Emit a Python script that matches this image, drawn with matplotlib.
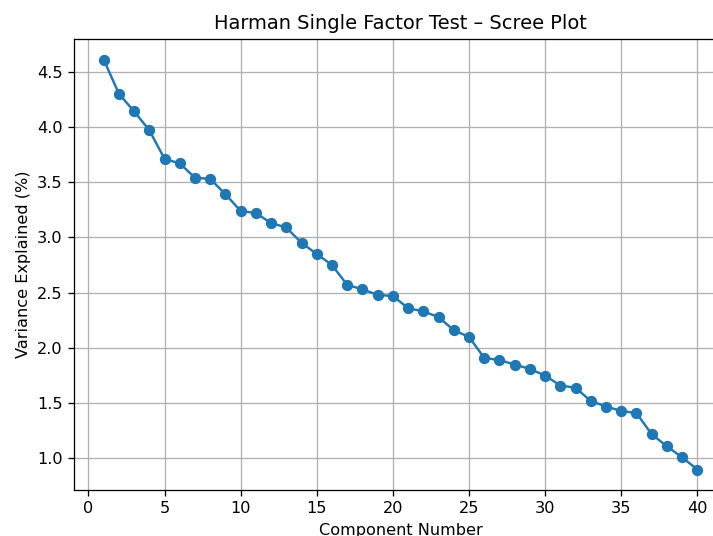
import matplotlib
matplotlib.use("Agg")
import matplotlib.pyplot as plt

# component numbers and % variance explained
components = list(range(1, 41))
variance = [4.61, 4.30, 4.14, 3.97, 3.71, 3.67, 3.54, 3.53, 3.39, 3.24,
            3.22, 3.13, 3.09, 2.95, 2.85, 2.75, 2.57, 2.53, 2.48, 2.47,
            2.36, 2.33, 2.28, 2.16, 2.10, 1.91, 1.89, 1.85, 1.81, 1.75,
            1.66, 1.64, 1.52, 1.47, 1.43, 1.41, 1.22, 1.11, 1.01, 0.90]

DPI = 116
fig = plt.figure(figsize=(713 / DPI, 536 / DPI), dpi=DPI)
# the reference is cropped on the right and bottom, so the axes run past the edge
ax = fig.add_axes([74 / 713, 46 / 536, 653 / 713, 451 / 536])

ax.plot(components, variance, marker='o')
ax.set_title("Harman Single Factor Test – Scree Plot")
ax.set_xlabel("Component Number")
ax.set_ylabel("Variance Explained (%)")
ax.grid(True)

fig.savefig("out.png", dpi=DPI)
